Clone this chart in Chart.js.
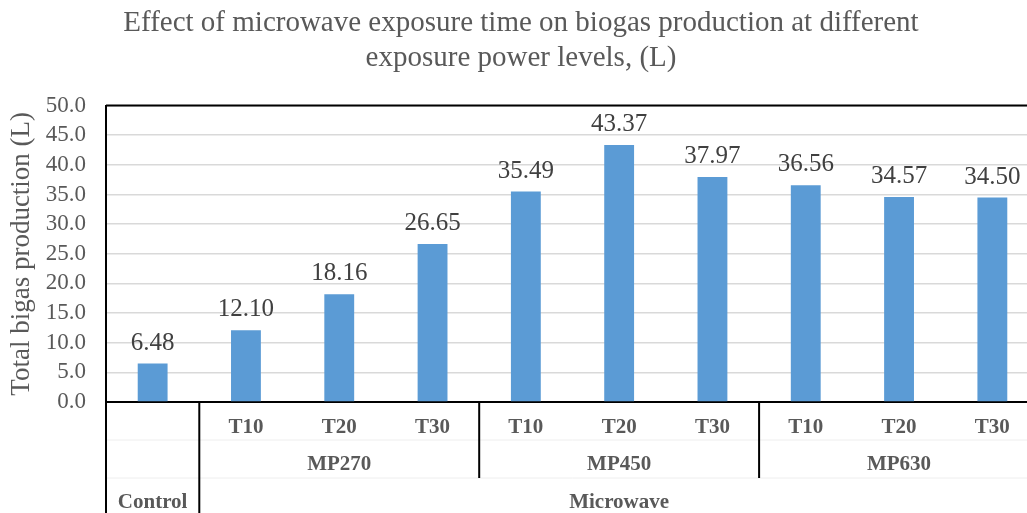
<!DOCTYPE html>
<html>
<head>
<meta charset="utf-8">
<script src="https://cdn.jsdelivr.net/npm/chart.js@4.4.1/dist/chart.umd.min.js"></script>
<style>
  html, body { margin: 0; padding: 0; background: #fff; overflow: hidden; width: 1027px; height: 513px; }
  #wrap { position: relative; width: 1045px; height: 513px; }
</style>
</head>
<body>
<div id="wrap"><canvas id="chart"></canvas></div>
<script>
// data
const timeLabels = ['', 'T10', 'T20', 'T30', 'T10', 'T20', 'T30', 'T10', 'T20', 'T30'];
const biogas     = [6.48, 12.10, 18.16, 26.65, 35.49, 43.37, 37.97, 36.56, 34.57, 34.50];
const powerLevels = ['MP270', 'MP450', 'MP630'];
const powerSpan   = [[1, 3], [4, 6], [7, 9]];
const treatments    = ['Control', 'Microwave'];
const treatmentSpan = [[0, 0], [1, 9]];
const yTicks = { min: 0, max: 50, step: 5 };

const SERIF = "'Liberation Serif', 'Times New Roman', serif";
const GREY  = '#595959';

const valueLabels = {
  id: 'valueLabels',
  afterDatasetsDraw(chart) {
    const ctx = chart.ctx;
    const meta = chart.getDatasetMeta(0);
    ctx.save();
    ctx.font = `25px ${SERIF}`;
    ctx.fillStyle = '#404040';
    ctx.textAlign = 'center';
    ctx.textBaseline = 'bottom';
    meta.data.forEach((bar, i) => ctx.fillText(biogas[i].toFixed(2), bar.x, bar.y - 8));
    ctx.restore();
  }
};

// multi-level category axis: separators + group rows
const groupAxis = {
  id: 'groupAxis',
  afterDraw(chart) {
    const { ctx, chartArea: ca, scales: { x } } = chart;
    const w = x.getPixelForValue(1) - x.getPixelForValue(0);
    const edge = i => x.getPixelForValue(i) - w / 2;
    const row1 = ca.bottom + 38, row2 = ca.bottom + 76, bottom = chart.height;
    ctx.save();
    // plot area top border
    ctx.strokeStyle = '#000';
    ctx.lineWidth = 2;
    ctx.beginPath();
    ctx.moveTo(ca.left, ca.top); ctx.lineTo(ca.right, ca.top);
    ctx.stroke();
    // faint row lines
    ctx.strokeStyle = '#eeeeee';
    ctx.lineWidth = 1;
    ctx.beginPath();
    [row1, row2].forEach(y => { ctx.moveTo(ca.left, y); ctx.lineTo(ca.right, y); });
    ctx.stroke();
    // separators
    ctx.strokeStyle = '#000';
    ctx.lineWidth = 2;
    ctx.beginPath();
    treatmentSpan.forEach(([a, b]) => {
      ctx.moveTo(edge(a), ca.bottom); ctx.lineTo(edge(a), bottom);
      ctx.moveTo(edge(b + 1), ca.bottom); ctx.lineTo(edge(b + 1), bottom);
    });
    powerSpan.forEach(([a, b]) => {
      ctx.moveTo(edge(b + 1), ca.bottom); ctx.lineTo(edge(b + 1), row2);
    });
    ctx.stroke();
    // labels
    ctx.font = `bold 21px ${SERIF}`;
    ctx.fillStyle = GREY;
    ctx.textAlign = 'center';
    ctx.textBaseline = 'middle';
    powerLevels.forEach((t, i) => {
      const [a, b] = powerSpan[i];
      ctx.fillText(t, (edge(a) + edge(b + 1)) / 2, ca.bottom + 63);
    });
    treatments.forEach((t, i) => {
      const [a, b] = treatmentSpan[i];
      ctx.fillText(t, (edge(a) + edge(b + 1)) / 2, ca.bottom + 101);
    });
    ctx.restore();
  }
};

new Chart(document.getElementById('chart'), {
  type: 'bar',
  data: {
    labels: timeLabels,
    datasets: [{
      data: biogas,
      backgroundColor: '#5B9BD5',
      borderWidth: 0,
      barPercentage: 0.32,
      categoryPercentage: 1
    }]
  },
  options: {
    responsive: true, maintainAspectRatio: false,
    animation: false,
    layout: { padding: { left: 3, right: 6, top: 0, bottom: 0 } },
    plugins: {
      legend: { display: false },
      tooltip: { enabled: false },
      title: {
        display: true,
        text: ['Effect of microwave exposure time on biogas production at different', 'exposure power levels, (L)'],
        font: { family: SERIF, size: 29, weight: 'normal', lineHeight: 1.2 },
        color: GREY,
        padding: { top: 6, bottom: 30 }
      }
    },
    scales: {
      x: {
        grid: { display: false, drawTicks: false },
        border: { display: true, color: '#000', width: 2 },
        ticks: { font: { family: SERIF, size: 21, weight: 'bold' }, color: GREY, padding: 13, maxRotation: 0, autoSkip: false },
        afterFit: s => { s.height = 111; }
      },
      y: {
        min: yTicks.min, max: yTicks.max,
        grid: { color: '#d9d9d9', lineWidth: 1.5, drawTicks: false },
        border: { display: true, color: '#000', width: 2 },
        ticks: { stepSize: yTicks.step, autoSkip: false, font: { family: SERIF, size: 23 }, color: GREY, padding: 20, callback: v => v.toFixed(1) },
        title: { display: true, text: 'Total bigas production (L)', font: { family: SERIF, size: 27 }, color: GREY, padding: { top: 3, bottom: 0 } },
        afterFit: s => { s.width = 103; }
      }
    }
  },
  plugins: [valueLabels, groupAxis]
});
</script>
</body>
</html>
